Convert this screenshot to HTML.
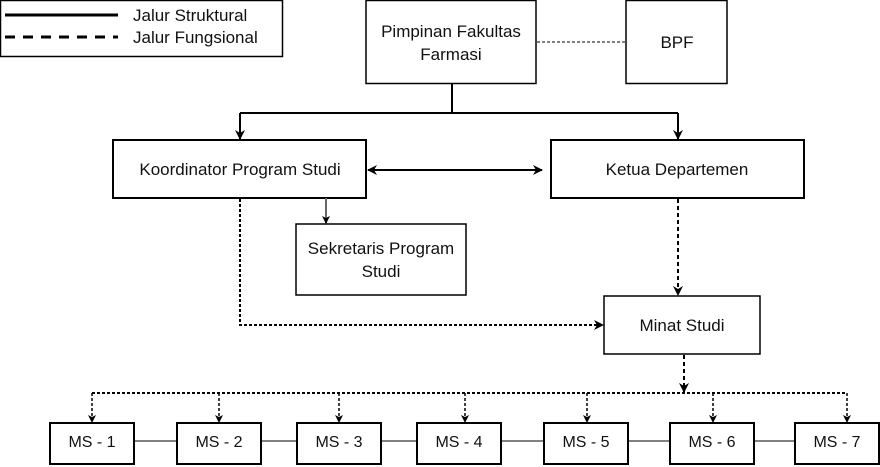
<!DOCTYPE html>
<html><head><meta charset="utf-8"><style>
html,body{margin:0;padding:0;background:#fff;}
svg{display:block;}
text{font-family:"Liberation Sans",sans-serif;font-size:17px;fill:#111;}
.ms{font-size:16px;}
</style></head><body>
<svg width="880" height="467" viewBox="0 0 880 467" xmlns="http://www.w3.org/2000/svg">
<defs>
<marker id="a" markerWidth="8" markerHeight="8" refX="7" refY="4" orient="auto" markerUnits="userSpaceOnUse"><path d="M0,0 L8,4 L0,8 L2,4 z" fill="#000"/></marker>
<marker id="b" markerWidth="10" markerHeight="10" refX="9" refY="5" orient="auto" markerUnits="userSpaceOnUse"><path d="M0,0 L10,5 L0,10 L3,5 z" fill="#000"/></marker>
</defs>
<g fill="#fff" stroke="#000" stroke-width="1.5">
<rect x="0.5" y="0.5" width="282" height="56"/>
<rect x="366" y="0.5" width="170" height="83"/>
<rect x="626" y="0.5" width="101" height="83"/>
<rect x="113" y="140" width="253" height="58" stroke-width="2"/>
<rect x="551" y="140" width="253" height="58" stroke-width="2"/>
<rect x="296" y="224" width="170" height="71"/>
<rect x="604" y="296" width="156" height="58"/>
<rect x="50" y="423" width="84" height="41" stroke-width="2"/>
<rect x="177" y="423" width="84" height="41" stroke-width="2"/>
<rect x="297" y="423" width="84" height="41" stroke-width="2"/>
<rect x="417" y="423" width="84" height="41" stroke-width="2"/>
<rect x="544" y="423" width="84" height="41" stroke-width="2"/>
<rect x="670" y="423" width="84" height="41" stroke-width="2"/>
<rect x="795" y="423" width="84" height="41" stroke-width="2"/>
</g>
<g stroke="#000" fill="none">
<line x1="5" y1="15" x2="118" y2="15" stroke-width="3"/>
<line x1="5" y1="37" x2="118" y2="37" stroke-width="3" stroke-dasharray="10,8"/>
<line x1="537" y1="42" x2="626" y2="42" stroke-width="1" stroke-dasharray="3,2"/>
<line x1="452" y1="84" x2="452" y2="113" stroke-width="2"/>
<line x1="240" y1="113" x2="678" y2="113" stroke-width="2"/>
<line x1="240" y1="113" x2="240" y2="139" stroke-width="2" marker-end="url(#b)"/>
<line x1="678" y1="113" x2="678" y2="139" stroke-width="2" marker-end="url(#b)"/>
<line x1="375" y1="170" x2="542" y2="170" stroke-width="2" marker-end="url(#b)"/>
<line x1="542" y1="170" x2="368" y2="170" stroke-width="2" marker-end="url(#b)"/>
<line x1="326" y1="198" x2="326" y2="223" stroke="#666" stroke-width="2" marker-end="url(#a)"/>
<polyline points="240,199 240,325 603,325" stroke-width="2" stroke-dasharray="3,2" marker-end="url(#b)"/>
<line x1="678" y1="199" x2="678" y2="295" stroke-width="2" stroke-dasharray="4,3" marker-end="url(#b)"/>
<line x1="684" y1="355" x2="684" y2="392" stroke-width="2" stroke-dasharray="4,3" marker-end="url(#b)"/>
<line x1="92" y1="393" x2="847" y2="393" stroke-width="2" stroke-dasharray="3,2"/>
<g stroke-width="1.5" stroke-dasharray="3,2">
<line x1="92" y1="393" x2="92" y2="422" marker-end="url(#a)"/>
<line x1="219" y1="393" x2="219" y2="422" marker-end="url(#a)"/>
<line x1="339" y1="393" x2="339" y2="422" marker-end="url(#a)"/>
<line x1="465" y1="393" x2="465" y2="422" marker-end="url(#a)"/>
<line x1="587" y1="393" x2="587" y2="422" marker-end="url(#a)"/>
<line x1="713" y1="393" x2="713" y2="422" marker-end="url(#a)"/>
<line x1="847" y1="393" x2="847" y2="422" marker-end="url(#a)"/>
</g>
<g stroke-width="1">
<line x1="134" y1="441" x2="177" y2="441"/>
<line x1="261" y1="441" x2="297" y2="441"/>
<line x1="381" y1="441" x2="417" y2="441"/>
<line x1="501" y1="441" x2="544" y2="441"/>
<line x1="628" y1="441" x2="670" y2="441"/>
<line x1="754" y1="441" x2="795" y2="441"/>
</g>
</g>
<text x="133" y="21">Jalur Struktural</text>
<text x="133" y="43">Jalur Fungsional</text>
<g text-anchor="middle">
<text x="451" y="37">Pimpinan Fakultas</text>
<text x="451" y="60">Farmasi</text>
<text x="677" y="48">BPF</text>
<text x="240" y="175">Koordinator Program Studi</text>
<text x="677" y="175">Ketua Departemen</text>
<text x="381" y="254">Sekretaris Program</text>
<text x="381" y="277">Studi</text>
<text x="682" y="331">Minat Studi</text>
<text class="ms" x="92" y="447">MS - 1</text>
<text class="ms" x="219" y="447">MS - 2</text>
<text class="ms" x="339" y="447">MS - 3</text>
<text class="ms" x="459" y="447">MS - 4</text>
<text class="ms" x="586" y="447">MS - 5</text>
<text class="ms" x="712" y="447">MS - 6</text>
<text class="ms" x="837" y="447">MS - 7</text>
</g>
</svg>
</body></html>
